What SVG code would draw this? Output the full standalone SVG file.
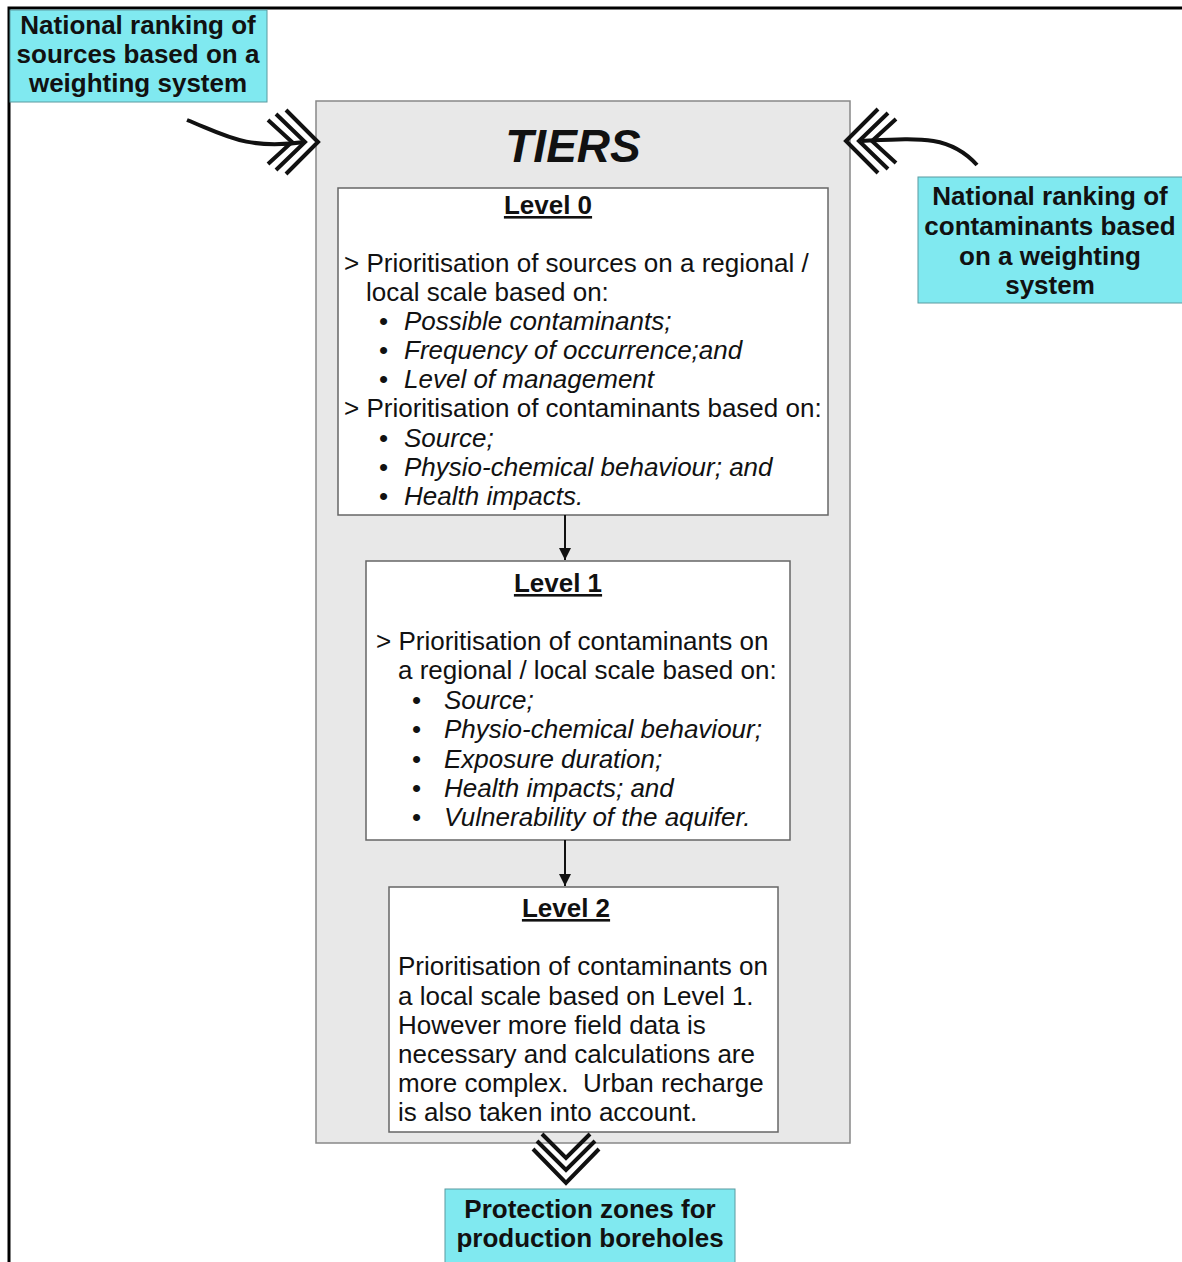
<svg xmlns="http://www.w3.org/2000/svg" width="1182" height="1262" viewBox="0 0 1182 1262">
<defs>
<style>
.cy{fill:#80E9F0;stroke:#5a9aa0;stroke-width:1}
.bt{font-family:"Liberation Sans",Arial,sans-serif;font-weight:bold;font-size:26px;fill:#111;text-anchor:middle}
.tx{font-family:"Liberation Sans",Arial,sans-serif;font-size:26px;fill:#111}
.it{font-style:italic}
.hd{font-family:"Liberation Sans",Arial,sans-serif;font-weight:bold;font-size:26px;fill:#111;text-anchor:middle;text-decoration:underline}
.box{fill:#fff;stroke:#666;stroke-width:1.5}
.ch{fill:none;stroke:#111;stroke-width:4;stroke-linejoin:miter}
.ln{fill:none;stroke:#111;stroke-width:2}
</style>
<marker id="ah" viewBox="0 0 10 10" refX="10" refY="5" markerWidth="14" markerHeight="12" markerUnits="userSpaceOnUse" orient="auto"><path d="M0,0 L10,5 L0,10 z" fill="#111"/></marker>
</defs>
<rect width="1182" height="1262" fill="#fff"/>
<path d="M9,1262 V8 H1182" fill="none" stroke="#000" stroke-width="3"/>

<g id="tiers">
<rect x="316" y="101" width="534" height="1042" fill="#e8e8e8" stroke="#888" stroke-width="1.5"/>
<text x="573" y="162" font-family="Liberation Sans,Arial,sans-serif" font-weight="bold" font-style="italic" font-size="46" fill="#111" text-anchor="middle">TIERS</text>
</g>

<g id="src">
<rect class="cy" x="10" y="10" width="257" height="92"/>
<text class="bt" x="138" y="34">National ranking of</text>
<text class="bt" x="138" y="63">sources based on a</text>
<text class="bt" x="138" y="92">weighting system</text>
</g>

<g id="cont">
<rect class="cy" x="918" y="177" width="266" height="126"/>
<text class="bt" x="1050" y="205">National ranking of</text>
<text class="bt" x="1050" y="235">contaminants based</text>
<text class="bt" x="1050" y="265">on a weighting</text>
<text class="bt" x="1050" y="294">system</text>
</g>

<g id="level0">
<rect class="box" x="338" y="188" width="490" height="327"/>
<text class="hd" x="548" y="214">Level 0</text>
<text class="tx" x="344" y="272">&gt; Prioritisation of sources on a regional /</text>
<text class="tx" x="366" y="301">local scale based on:</text>
<text class="tx" x="379" y="330">•</text><text class="tx it" x="404" y="330">Possible contaminants;</text>
<text class="tx" x="379" y="359">•</text><text class="tx it" x="404" y="359">Frequency of occurrence;and</text>
<text class="tx" x="379" y="388">•</text><text class="tx it" x="404" y="388">Level of management</text>
<text class="tx" x="344" y="417">&gt; Prioritisation of contaminants based on:</text>
<text class="tx" x="379" y="447">•</text><text class="tx it" x="404" y="447">Source;</text>
<text class="tx" x="379" y="476">•</text><text class="tx it" x="404" y="476">Physio-chemical behaviour; and</text>
<text class="tx" x="379" y="505">•</text><text class="tx it" x="404" y="505">Health impacts.</text>
</g>

<g id="level1">
<rect class="box" x="366" y="561" width="424" height="279"/>
<text class="hd" x="558" y="592">Level 1</text>
<text class="tx" x="376" y="650">&gt; Prioritisation of contaminants on</text>
<text class="tx" x="398" y="679">a regional / local scale based on:</text>
<text class="tx" x="412" y="709">•</text><text class="tx it" x="444" y="709">Source;</text>
<text class="tx" x="412" y="738">•</text><text class="tx it" x="444" y="738">Physio-chemical behaviour;</text>
<text class="tx" x="412" y="768">•</text><text class="tx it" x="444" y="768">Exposure duration;</text>
<text class="tx" x="412" y="797">•</text><text class="tx it" x="444" y="797">Health impacts; and</text>
<text class="tx" x="412" y="826">•</text><text class="tx it" x="444" y="826">Vulnerability of the aquifer.</text>
</g>

<g id="level2">
<rect class="box" x="389" y="887" width="389" height="245"/>
<text class="hd" x="566" y="917">Level 2</text>
<text class="tx" x="398" y="975">Prioritisation of contaminants on</text>
<text class="tx" x="398" y="1005">a local scale based on Level 1.</text>
<text class="tx" x="398" y="1034">However more field data is</text>
<text class="tx" x="398" y="1063">necessary and calculations are</text>
<text class="tx" x="398" y="1092" xml:space="preserve">more complex.  Urban recharge</text>
<text class="tx" x="398" y="1121">is also taken into account.</text>
</g>

<g id="prot">
<rect class="cy" x="445" y="1189" width="290" height="76"/>
<text class="bt" x="590" y="1218">Protection zones for</text>
<text class="bt" x="590" y="1247">production boreholes</text>
</g>

<g id="connectors">
<line class="ln" x1="565" y1="515" x2="565" y2="560" marker-end="url(#ah)"/>
<line class="ln" x1="565" y1="840" x2="565" y2="886" marker-end="url(#ah)"/>
<path d="M187,120 C225,135 245,150 305,142" fill="none" stroke="#111" stroke-width="4"/>
<polyline class="ch" points="286,110 318,142 286,174"/>
<polyline class="ch" points="276,114 305,142 276,170"/>
<polyline class="ch" points="268,120 292,142 268,164"/>
<path d="M977,165 C950,135 920,138 862,141" fill="none" stroke="#111" stroke-width="4"/>
<polyline class="ch" points="878,109 846,141 878,173"/>
<polyline class="ch" points="888,113 859,141 888,169"/>
<polyline class="ch" points="896,119 872,141 896,163"/>
<polyline class="ch" points="533,1149 566,1183 599,1149"/>
<polyline class="ch" points="537,1141 566,1170 595,1141"/>
<polyline class="ch" points="542,1134 566,1158 590,1134"/>
</g>
</svg>
